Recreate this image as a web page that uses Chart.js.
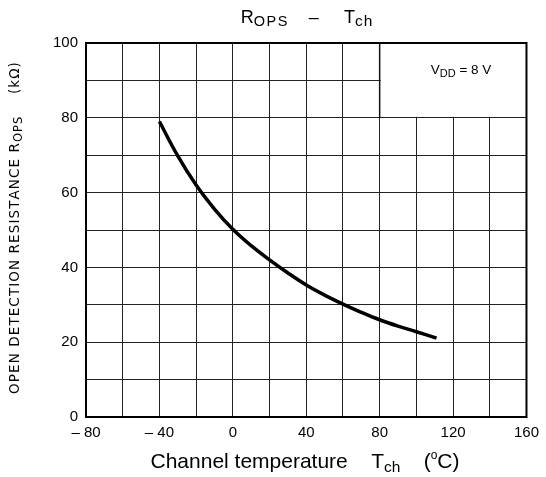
<!DOCTYPE html>
<html>
<head>
<meta charset="utf-8">
<script src="https://cdn.jsdelivr.net/npm/chart.js@4.4.0/dist/chart.umd.min.js"></script>
<style>
  html, body { margin: 0; padding: 0; background: #fff; }
  #wrap { width: 546px; height: 477px; position: relative; }
</style>
</head>
<body>
<div id="wrap"><canvas id="c" width="546" height="477"></canvas></div>
<script>
// curve: channel temperature (C) vs open detection resistance (kOhm)
var temps = [-40, -30, -20, -10, 0, 10, 20, 30, 40, 50, 60, 70, 80, 90, 100, 111];
var rops  = [79.0, 69.8, 62.0, 55.6, 50.2, 45.8, 42.0, 38.5, 35.3, 32.6, 30.2, 28.0, 26.0, 24.3, 22.8, 21.1];

var xTickLabels = ['– 80', '– 40', '0', '40', '80', '120', '160'];
var xTickValues = [-80, -40, 0, 40, 80, 120, 160];
var yTickValues = [0, 20, 40, 60, 80, 100];

// legend box sits in the top right corner of the grid
var boxX = [80, 160];
var boxY = [80, 100];

var sans = '"Liberation Sans", Arial, sans-serif';
var ySans = '"DejaVu Sans", Verdana, sans-serif';

// draws a row of text pieces (for sub/superscripts), ls = extra letter spacing
function partWidth(ctx, p) {
    ctx.font = p.size + 'px ' + (p.font || sans);
    var w = ctx.measureText(p.t).width;
    if (p.ls) w += p.ls * p.t.length;
    return w;
}
function drawRich(ctx, parts, x, y, align) {
    var w = 0;
    parts.forEach(function (p) { w += partWidth(ctx, p); });
    var cx = align === 'center' ? x - w / 2 : x;
    ctx.textAlign = 'left';
    ctx.textBaseline = 'alphabetic';
    parts.forEach(function (p) {
        ctx.font = p.size + 'px ' + (p.font || sans);
        if (p.ls) {
            for (var i = 0; i < p.t.length; i++) {
                ctx.fillText(p.t[i], cx, y + (p.dy || 0));
                cx += ctx.measureText(p.t[i]).width + p.ls;
            }
        } else {
            ctx.fillText(p.t, cx, y + (p.dy || 0));
            cx += ctx.measureText(p.t).width;
        }
    });
}

var textPlugin = {
    id: 'texts',
    beforeDatasetsDraw: function (chart) {
        var ctx = chart.ctx;
        var xs = chart.scales.x, ys = chart.scales.y;
        var a = chart.chartArea;
        var l = xs.getPixelForValue(boxX[0]), r = xs.getPixelForValue(boxX[1]);
        var t = ys.getPixelForValue(boxY[1]), b = ys.getPixelForValue(boxY[0]);
        ctx.save();
        ctx.fillStyle = '#fff';
        ctx.fillRect(l + 1, t, r - l - 1, b - t - 1);
        ctx.strokeStyle = '#111';
        ctx.lineWidth = 1.5;
        ctx.beginPath();
        ctx.moveTo(l, t);
        ctx.lineTo(l, b);
        ctx.stroke();
        // outer frame
        ctx.strokeStyle = '#000';
        ctx.lineWidth = 2;
        ctx.strokeRect(a.left, a.top, a.right - a.left, a.bottom - a.top);
        ctx.fillStyle = '#000';
        drawRich(ctx, [
            {t: 'V', size: 13.5},
            {t: 'DD', size: 11, dy: 3},
            {t: ' = 8 V', size: 13.5}
        ], (l + r) / 2 + 8, (t + b) / 2 - 6, 'center');
        ctx.restore();
    },
    afterDraw: function (chart) {
        var ctx = chart.ctx;
        ctx.save();
        ctx.fillStyle = '#000';
        // title
        drawRich(ctx, [
            {t: 'R', size: 18},
            {t: 'OPS', size: 14.5, ls: 1.5, dy: 3},
            {t: '    –     T', size: 18},
            {t: 'ch', size: 15.5, ls: 1, dy: 3}
        ], 307, 23, 'center');
        // x axis title
        drawRich(ctx, [
            {t: 'Channel temperature    T', size: 21},
            {t: 'ch', size: 15.5, dy: 4},
            {t: '    (', size: 21},
            {t: 'o', size: 12, dy: -9},
            {t: 'C)', size: 21}
        ], 305, 468, 'center');
        // y axis title, rotated
        ctx.translate(19, 228);
        ctx.rotate(-Math.PI / 2);
        drawRich(ctx, [
            {t: 'OPEN DETECTION RESISTANCE R', size: 13.5, ls: 1.1, font: ySans},
            {t: 'OPS', size: 11.5, ls: 1, font: ySans, dy: 3},
            {t: '    (kΩ)', size: 13.5, ls: 1.1, font: ySans}
        ], 0, 0, 'center');
        ctx.restore();
    }
};

new Chart(document.getElementById('c'), {
    type: 'line',
    data: {
        datasets: [{
            data: temps.map(function (t, i) { return {x: t, y: rops[i]}; }),
            borderColor: '#000',
            borderWidth: 3.5,
            pointRadius: 0,
            fill: false,
            tension: 0.4
        }]
    },
    options: {
        responsive: false,
        animation: false,
        devicePixelRatio: 1,
        layout: { padding: { left: 0, right: 15, top: 43, bottom: 0 } },
        plugins: { legend: { display: false }, tooltip: { enabled: false } },
        scales: {
            x: {
                type: 'linear',
                min: -80,
                max: 160,
                afterFit: function (s) { s.height = 60; },
                afterBuildTicks: function (s) {
                    var out = [];
                    for (var v = -80; v <= 160; v += 20) out.push({value: v});
                    s.ticks = out;
                },
                ticks: {
                    autoSkip: false,
                    maxRotation: 0,
                    padding: 7,
                    color: '#000',
                    font: { family: sans, size: 15 },
                    callback: function (v) {
                        var i = xTickValues.indexOf(v);
                        return i < 0 ? '' : xTickLabels[i];
                    }
                },
                grid: { color: '#222', lineWidth: 1, drawTicks: false },
                border: { color: '#000', width: 2 }
            },
            y: {
                min: 0,
                max: 100,
                afterFit: function (s) { s.width = 86; },
                afterBuildTicks: function (s) {
                    var out = [];
                    for (var v = 0; v <= 100; v += 10) out.push({value: v});
                    s.ticks = out;
                },
                ticks: {
                    autoSkip: false,
                    padding: 8,
                    color: '#000',
                    font: { family: sans, size: 15 },
                    callback: function (v) {
                        return yTickValues.indexOf(v) < 0 ? '' : String(v);
                    }
                },
                grid: { color: '#222', lineWidth: 1, drawTicks: false },
                border: { color: '#000', width: 2 }
            }
        }
    },
    plugins: [textPlugin]
});
</script>
</body>
</html>
